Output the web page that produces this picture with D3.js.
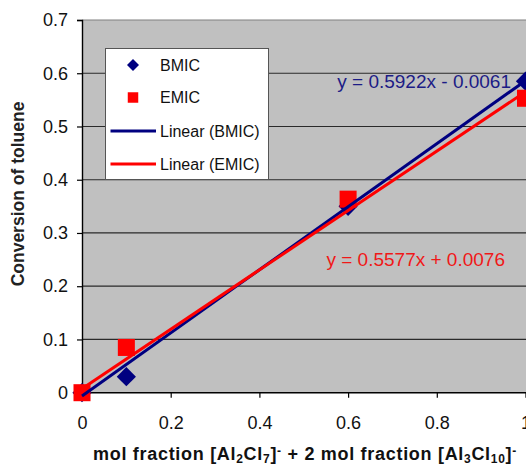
<!DOCTYPE html>
<html>
<head>
<meta charset="utf-8">
<script src="https://cdn.jsdelivr.net/npm/d3@7"></script>
<style>
  body { margin: 0; background: #fff; }
  svg { display: block; font-family: Arial, "Liberation Sans", sans-serif; }
</style>
</head>
<body>
<svg id="chart" width="526" height="467"></svg>
<script>
// data
const xValues = [0, 0.1, 0.6, 1];
const bmicValues = [0, 0.03, 0.35, 0.585];
const emicValues = [0, 0.085, 0.3635, 0.553];
const xTicks = [0, 0.2, 0.4, 0.6, 0.8, 1];
const yTicks = [0, 0.1, 0.2, 0.3, 0.4, 0.5, 0.6, 0.7];
const seriesNames = ["BMIC", "EMIC"];
const fitSlopes = [0.5922, 0.5577];
const fitIntercepts = [-0.0061, 0.0076];
const fitLabels = ["y = 0.5922x - 0.0061", "y = 0.5577x + 0.0076"];

const navy = "#000080", red = "#ff0000";

const svg = d3.select("#chart");
const plotLeft = 82, plotRight = 525.5, plotTop = 20, plotBottom = 392.7;

let x = d3.scaleLinear().domain([0, 1]).range([plotLeft, plotRight]);
let y = d3.scaleLinear().domain([0, 0.7]).range([plotBottom, plotTop]);

// plot area
svg.append("rect")
    .attr("x", plotLeft).attr("y", plotTop)
    .attr("width", plotRight - plotLeft + 2).attr("height", plotBottom - plotTop)
    .attr("fill", "#c0c0c0");
svg.append("line")
    .attr("x1", plotLeft).attr("x2", 526)
    .attr("y1", plotTop).attr("y2", plotTop)
    .attr("stroke", "#808080").attr("stroke-width", 1.2);

// gridlines
svg.append("g")
    .selectAll("line")
    .data(yTicks.slice(1, -1))
    .join("line")
    .attr("x1", plotLeft).attr("x2", 526)
    .attr("y1", d => y(d)).attr("y2", d => y(d))
    .attr("stroke", "#2a2a2a").attr("stroke-width", 1.2);

// axes
let yAxis = svg.append("g")
    .attr("transform", "translate(" + plotLeft + ",0)")
    .call(d3.axisLeft(y).tickValues(yTicks).tickSize(5).tickPadding(9)
        .tickFormat(d => d === 0 ? "0" : d3.format(".1f")(d)));
let xAxis = svg.append("g")
    .attr("transform", "translate(0," + plotBottom + ")")
    .call(d3.axisBottom(x).tickValues(xTicks).tickSize(5).tickPadding(19)
        .tickFormat(d => (d === 0 || d === 1) ? String(d) : d3.format(".1f")(d)));
for (let ax of [xAxis, yAxis]) {
    ax.select(".domain").attr("stroke", "#000").attr("stroke-width", 1.4);
    ax.selectAll(".tick line").attr("stroke", "#000").attr("stroke-width", 1.2);
    ax.selectAll("text")
        .attr("fill", "#111")
        .style("font-size", "18px")
        .style("font-family", "Arial, 'Liberation Sans', sans-serif");
}
xAxis.select(".domain").attr("d", "M" + plotLeft + ",0H526");

// markers
const diamond = d3.symbol().type(d3.symbolSquare).size(185);
const square = d3.symbol().type(d3.symbolSquare).size(290);

svg.append("g")
    .selectAll("path")
    .data(xValues.map((v, i) => [v, bmicValues[i]]))
    .join("path")
    .attr("d", diamond)
    .attr("transform", d => "translate(" + x(d[0]) + "," + y(d[1]) + ") rotate(45)")
    .attr("fill", navy);

svg.append("g")
    .selectAll("path")
    .data(xValues.map((v, i) => [v, emicValues[i]]))
    .join("path")
    .attr("d", square)
    .attr("transform", d => "translate(" + x(d[0]) + "," + y(d[1]) + ")")
    .attr("fill", red);

// trend lines
const lineColors = [navy, red];
for (let k = 0; k < 2; k++) {
    let ends = [0, 1].map(v => [v, fitSlopes[k] * v + fitIntercepts[k]]);
    svg.append("path")
        .datum(ends)
        .attr("d", d3.line().x(d => x(d[0])).y(d => y(d[1])))
        .attr("stroke", lineColors[k])
        .attr("stroke-width", 3)
        .attr("fill", "none");
}

// equations
svg.append("text")
    .attr("x", 511).attr("y", 88)
    .attr("text-anchor", "end")
    .attr("fill", "#1c1c86")
    .style("font-size", "19px")
    .text(fitLabels[0]);
svg.append("text")
    .attr("x", 505).attr("y", 266)
    .attr("text-anchor", "end")
    .attr("fill", "#f01818")
    .style("font-size", "19px")
    .text(fitLabels[1]);

// legend
let legend = svg.append("g");
legend.append("rect")
    .attr("x", 105.5).attr("y", 48.5)
    .attr("width", 163).attr("height", 131)
    .attr("fill", "#fff").attr("stroke", "#555").attr("stroke-width", 1);
const legendRows = [65, 97.5, 131, 164];
const legendLabels = [seriesNames[0], seriesNames[1], "Linear (" + seriesNames[0] + ")", "Linear (" + seriesNames[1] + ")"];
legend.append("path")
    .attr("d", d3.symbol().type(d3.symbolSquare).size(72))
    .attr("transform", "translate(133," + legendRows[0] + ") rotate(45)")
    .attr("fill", navy);
legend.append("path")
    .attr("d", d3.symbol().type(d3.symbolSquare).size(110))
    .attr("transform", "translate(133," + legendRows[1] + ")")
    .attr("fill", red);
legend.append("line")
    .attr("x1", 110.5).attr("x2", 156).attr("y1", legendRows[2]).attr("y2", legendRows[2])
    .attr("stroke", navy).attr("stroke-width", 3);
legend.append("line")
    .attr("x1", 110.5).attr("x2", 156).attr("y1", legendRows[3]).attr("y2", legendRows[3])
    .attr("stroke", red).attr("stroke-width", 3);
legend.selectAll("text")
    .data(legendLabels)
    .join("text")
    .attr("x", 160)
    .attr("y", (d, i) => legendRows[i] + 5.5)
    .attr("fill", "#111")
    .style("font-size", "16px")
    .text(d => d);

// axis titles
svg.append("text")
    .attr("transform", "translate(24,194) rotate(-90)")
    .attr("text-anchor", "middle")
    .attr("fill", "#222")
    .style("font-size", "17.5px")
    .style("font-weight", "bold")
    .text("Conversion of toluene");

let xt = svg.append("text")
    .attr("x", 305).attr("y", 460)
    .attr("text-anchor", "middle")
    .attr("fill", "#111")
    .style("font-size", "18px")
    .style("letter-spacing", "0.7px")
    .style("font-weight", "bold");
const titleParts = [
    ["mol fraction [Al", 0], ["2", 1], ["Cl", 0], ["7", 1], ["]", 0], ["-", -1],
    [" + 2 mol fraction [Al", 0], ["3", 1], ["Cl", 0], ["10", 1], ["]", 0], ["-", -1]
];
for (let p of titleParts) {
    let t = xt.append("tspan").text(p[0]);
    if (p[1] === 1) t.attr("baseline-shift", "-25%").style("font-size", "12px");
    if (p[1] === -1) t.attr("baseline-shift", "45%").style("font-size", "12px");
}
</script>
</body>
</html>
